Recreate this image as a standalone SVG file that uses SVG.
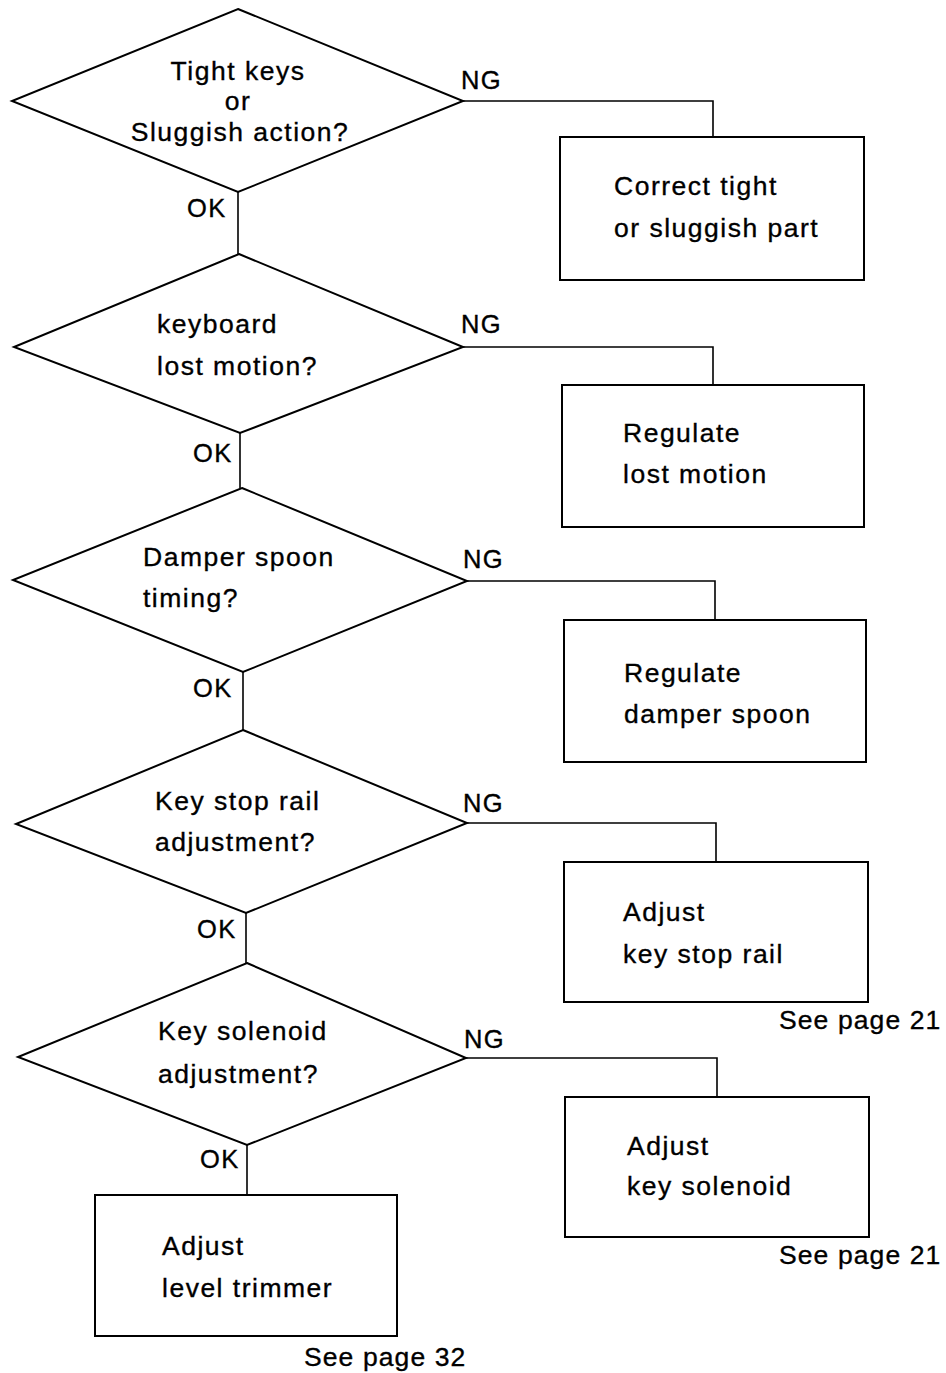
<svg xmlns="http://www.w3.org/2000/svg" width="946" height="1373" viewBox="0 0 946 1373">
  <style>
    .shape { fill: none; stroke: #000; stroke-width: 2; stroke-linejoin: miter; }
    .wire { fill: none; stroke: #000; stroke-width: 1.6; }
    text { font-family: "Liberation Sans", Arial, sans-serif; font-size: 26.5px; fill: #000; stroke: #000; stroke-width: 0.35px; letter-spacing: 1.5px; }
    .mid { text-anchor: middle; }
    .tag { font-size: 25.5px; letter-spacing: 1.4px; }
    .ref { letter-spacing: 1.1px; }
  </style>
  <rect width="946" height="1373" fill="#fff"/>

  <!-- connectors -->
  <g id="connectors">
    <!-- OK paths down the left column -->
    <polyline class="wire" points="238,192 238,254"/>
    <polyline class="wire" points="240,433 240,488"/>
    <polyline class="wire" points="243,672 243,730"/>
    <polyline class="wire" points="246,913 246,963"/>
    <polyline class="wire" points="247,1145 247,1195"/>
    <!-- NG paths to the right column -->
    <polyline class="wire" points="463,101 713,101 713,137"/>
    <polyline class="wire" points="463,347 713,347 713,385"/>
    <polyline class="wire" points="467,581 715,581 715,620"/>
    <polyline class="wire" points="467,823 716,823 716,862"/>
    <polyline class="wire" points="466,1058 717,1058 717,1097"/>
    <!-- branch labels -->
    <text class="tag" x="461" y="89">NG</text>
    <text class="tag" x="187" y="217">OK</text>
    <text class="tag" x="461" y="333">NG</text>
    <text class="tag" x="193" y="462">OK</text>
    <text class="tag" x="463" y="568">NG</text>
    <text class="tag" x="193" y="697">OK</text>
    <text class="tag" x="463" y="812">NG</text>
    <text class="tag" x="197" y="938">OK</text>
    <text class="tag" x="464" y="1048">NG</text>
    <text class="tag" x="200" y="1168">OK</text>
  </g>

  <!-- decisions -->
  <g id="q-tight-keys">
    <polygon class="shape" points="238,9 463,101 238,192 12,101"/>
    <text class="mid" x="238" y="80">Tight keys</text>
    <text class="mid" x="238" y="110">or</text>
    <text class="mid" x="240" y="141">Sluggish action?</text>
  </g>
  <g id="q-lost-motion">
    <polygon class="shape" points="239,254 463,347 240,433 14,347"/>
    <text x="157" y="333">keyboard</text>
    <text x="157" y="375">lost motion?</text>
  </g>
  <g id="q-damper-timing">
    <polygon class="shape" points="242,488 467,581 243,672 13,580"/>
    <text x="143" y="566">Damper spoon</text>
    <text x="143" y="607">timing?</text>
  </g>
  <g id="q-key-stop-rail">
    <polygon class="shape" points="243,730 467,823 246,913 16,824"/>
    <text x="155" y="810">Key stop rail</text>
    <text x="155" y="851">adjustment?</text>
  </g>
  <g id="q-key-solenoid">
    <polygon class="shape" points="247,963 466,1058 247,1145 18,1057"/>
    <text x="158" y="1040">Key solenoid</text>
    <text x="158" y="1083">adjustment?</text>
  </g>

  <!-- actions -->
  <g id="a-correct-part">
    <rect class="shape" x="560" y="137" width="304" height="143"/>
    <text x="614" y="195">Correct tight</text>
    <text x="614" y="237">or sluggish part</text>
  </g>
  <g id="a-regulate-lost-motion">
    <rect class="shape" x="562" y="385" width="302" height="142"/>
    <text x="623" y="442">Regulate</text>
    <text x="623" y="483">lost motion</text>
  </g>
  <g id="a-regulate-damper">
    <rect class="shape" x="564" y="620" width="302" height="142"/>
    <text x="624" y="682">Regulate</text>
    <text x="624" y="723">damper spoon</text>
  </g>
  <g id="a-adjust-key-stop">
    <rect class="shape" x="564" y="862" width="304" height="140"/>
    <text x="623" y="921">Adjust</text>
    <text x="623" y="963">key stop rail</text>
    <text class="ref" x="779" y="1029">See page 21</text>
  </g>
  <g id="a-adjust-solenoid">
    <rect class="shape" x="565" y="1097" width="304" height="140"/>
    <text x="627" y="1155">Adjust</text>
    <text x="627" y="1195">key solenoid</text>
    <text class="ref" x="779" y="1264">See page 21</text>
  </g>
  <g id="a-adjust-trimmer">
    <rect class="shape" x="95" y="1195" width="302" height="141"/>
    <text x="162" y="1255">Adjust</text>
    <text x="162" y="1297">level trimmer</text>
    <text class="ref" x="304" y="1366">See page 32</text>
  </g>
</svg>
